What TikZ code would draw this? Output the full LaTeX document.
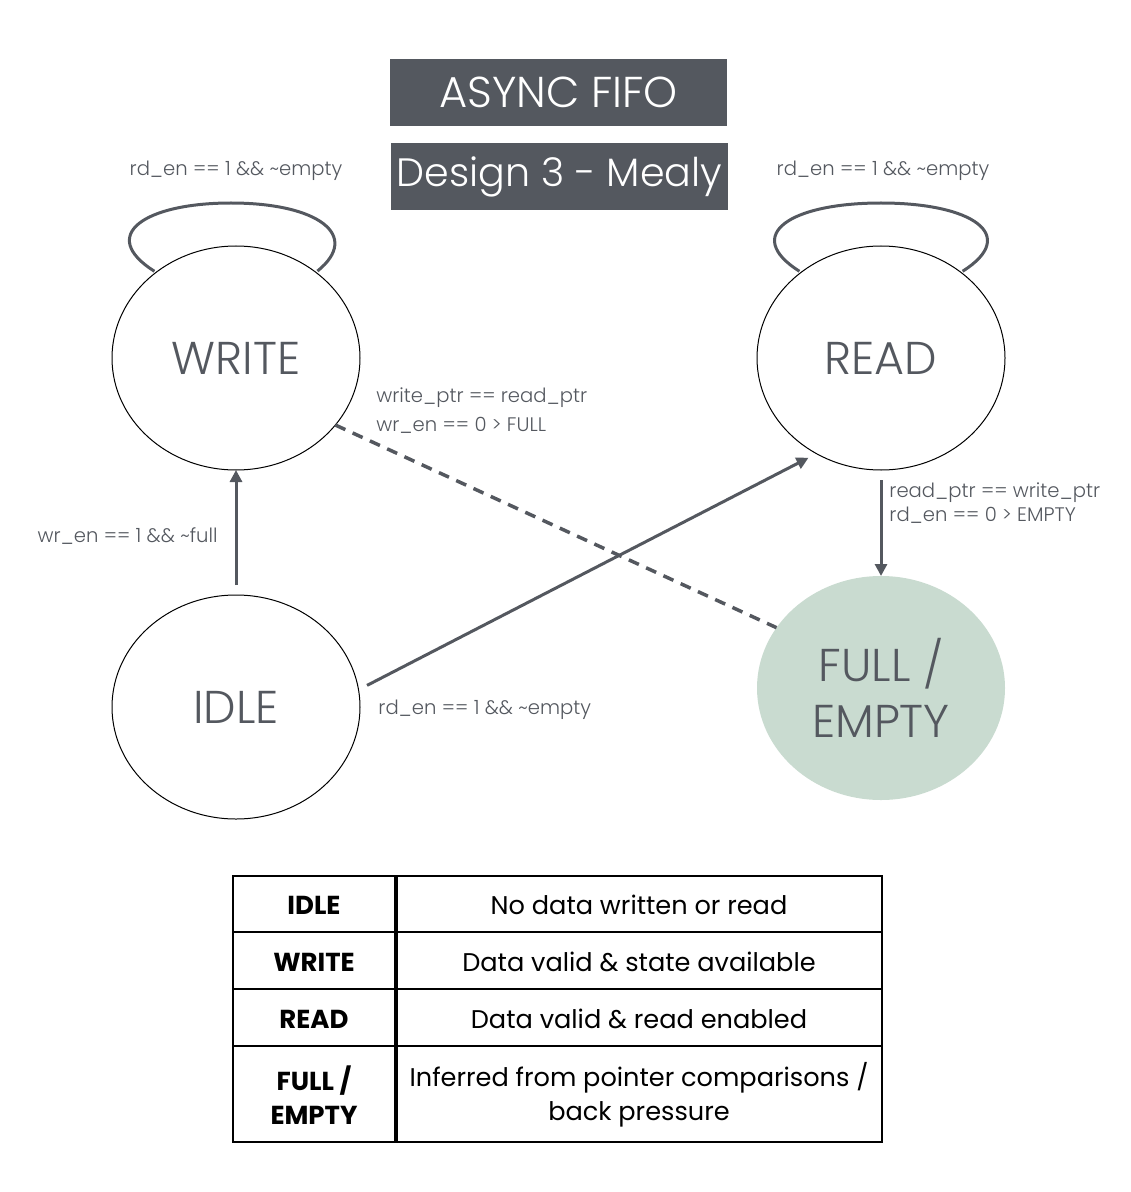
\documentclass[tikz,border=0pt]{standalone}
\usepackage{fontspec}
\setmainfont{Poppins}
\IfFontExistsTF{Poppins Light}{\newfontfamily\thinfont{Poppins Light}}{\newfontfamily\thinfont{Poppins}}
\usetikzlibrary{shapes,arrows.meta}
\definecolor{slate}{RGB}{84,88,95}
\definecolor{sage}{RGB}{201,219,208}

\begin{document}
\begin{tikzpicture}[x=0.5pt,y=-0.5pt,
  state/.style={ellipse,draw,line width=0.5pt,minimum width=124pt,minimum height=112pt,inner sep=0pt,outer sep=0pt,text=slate,font=\thinfont\fontsize{23}{28}\selectfont,align=center},
  banner/.style={fill=slate,text=white,minimum width=168.5pt,minimum height=33.5pt,inner sep=0pt},
  lbl/.style={text=slate,inner sep=0pt,align=left,font=\thinfont\fontsize{9.8}{14.5}\selectfont},
  edge/.style={draw=slate,line width=1.5pt},
  tip/.style={-{Triangle[length=6pt,width=6pt]}},
  cell/.style={inner sep=0pt,align=center,font=\fontsize{12.8}{17}\selectfont}]
\useasboundingbox (0,0) rectangle (1130,1192);
\node[banner,font=\thinfont\fontsize{21.6}{26}\selectfont] (t1) at (558.5,92.5) {ASYNC FIFO};
\node[banner,font=\thinfont\fontsize{19.8}{26}\selectfont] (t2) at (559.5,177) {Design 3 - Mealy};
\node[state] (W) at (236,358) {WRITE};
\node[state] (R) at (881,358) {READ};
\node[state] (I) at (236,707) {IDLE};
\node[state,draw=none,fill=sage] (F) at (881,688) {FULL /\\EMPTY};
\draw[edge,shorten <=1pt,shorten >=1pt] (W.133) .. controls (97,235) and (145,203) .. (231,203) .. controls (317,203) and (362,235) .. (W.47);
\draw[edge,shorten <=1pt,shorten >=1pt] (R.133) .. controls (742,235) and (790,203) .. (881,203) .. controls (972,203) and (1020,235) .. (R.47);
\node[lbl] (lw) at (236,171) {rd\_en == 1 \&\& \textasciitilde{}empty};
\node[lbl] (lr) at (883,171) {rd\_en == 1 \&\& \textasciitilde{}empty};
\draw[edge,tip,shorten <=5pt] (I) -- (W);
\node[lbl,anchor=east] (liw) at (218,536) {wr\_en == 1 \&\& \textasciitilde{}full};
\draw[edge,tip,shorten <=4.8pt,shorten >=4.5pt] (I.8.6) -- (R.236);
\node[lbl,anchor=west] (lir) at (378,710) {rd\_en == 1 \&\& \textasciitilde{}empty};
\draw[draw=slate,line width=1.75pt,dash pattern=on 5.5pt off 4pt] (W.-34) -- (F.150);
\node[lbl,anchor=west] (lwf) at (376,410.5) {write\_ptr == read\_ptr\\wr\_en == 0 > FULL};
\draw[edge,tip,shorten <=5pt] (R) -- (F);
\node[lbl,anchor=west,font=\thinfont\fontsize{9.8}{12}\selectfont] (lrf) at (889,503) {read\_ptr == write\_ptr\\rd\_en == 0 > EMPTY};
\draw[line width=0.75pt] (233,876) rectangle (882,1142);
\foreach \y in {932,989,1046} \draw[line width=0.75pt] (233,\y) -- (882,\y);
\draw[line width=2pt] (396,876) -- (396,1142);
\node[cell,font=\bfseries\fontsize{13}{17}\selectfont] (k1) at (314,905) {IDLE};
\node[cell,font=\bfseries\fontsize{13}{17}\selectfont] (k2) at (314,962) {WRITE};
\node[cell,font=\bfseries\fontsize{13}{17}\selectfont] (k3) at (314,1019) {READ};
\node[cell,font=\bfseries\fontsize{13}{17}\selectfont] (k4) at (314,1095) {FULL /\\EMPTY};
\node[cell] (v1) at (639,905) {No data written or read};
\node[cell] (v2) at (639,962) {Data valid \& state available};
\node[cell] (v3) at (639,1019) {Data valid \& read enabled};
\node[cell] (v4) at (639,1095) {Inferred from pointer comparisons /\\back pressure};
\end{tikzpicture}
\end{document}
